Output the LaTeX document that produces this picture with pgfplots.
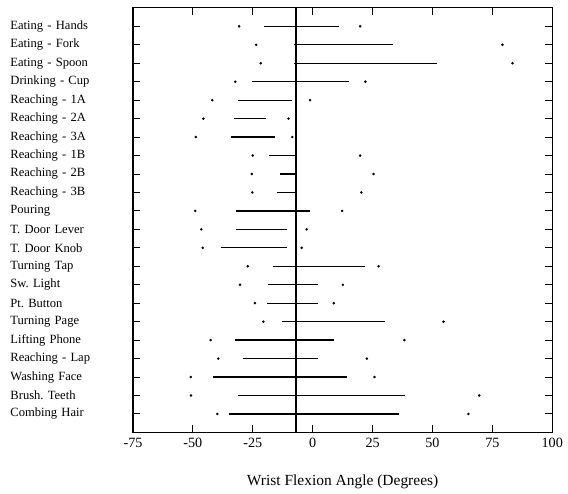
\documentclass[border=0pt]{standalone}
\usepackage{pgfplots}
\usepackage{pgfplotstable}
\pgfplotsset{compat=1.18}
\usepackage{fontspec}
\setmainfont{Liberation Serif}
\pgfplotstableread{
y dlo dhi
1 -30.7 19.8
2 -23.6 79.2
3 -21.7 83.4
4 -32.3 22.0
5 -41.9 -1.1
6 -45.6 -10.1
7 -48.8 -8.5
8 -25.0 19.8
9 -25.4 25.4
10 -25.2 20.3
11 -49.0 12.3
12 -46.5 -2.5
13 -45.9 -4.6
14 -27.1 27.5
15 -30.3 12.6
16 -24.1 8.8
17 -20.6 54.6
18 -42.6 38.3
19 -39.4 22.6
20 -50.9 25.8
21 -50.8 69.5
22 -39.8 65.0
}\dots
\begin{document}
\frenchspacing
\begin{tikzpicture}
\begin{axis}[
  scale only axis,
  width=320pt, height=324pt,
  xmin=-75, xmax=100,
  ymin=0, ymax=23,
  y dir=reverse,
  axis line style={line width=0.8pt},
  xtick={-75,-50,-25,0,25,50,75,100},
  xticklabels={-75,-50,-25,0,25,50,75,100},
  ytick={1,...,22},
  yticklabels={Eating - Hands, Eating - Fork, Eating - Spoon, Drinking - Cup, Reaching - 1A, Reaching - 2A, Reaching - 3A, Reaching - 1B, Reaching - 2B, Reaching - 3B, Pouring, T. Door Lever, T. Door Knob, Turning Tap, Sw. Light, Pt. Button, Turning Page, Lifting Phone, Reaching - Lap, Washing Face, Brush. Teeth, Combing Hair},
  yticklabel style={text width=90pt, align=left, font=\fontsize{9.6pt}{11pt}\selectfont\frenchspacing},
  xticklabel style={font=\fontsize{10.8pt}{12pt}\selectfont, yshift=-1pt},
  tick align=inside,
  major tick length=5.5pt,
  tick style={black, line width=0.7pt},
  xlabel={Wrist Flexion Angle (Degrees)},
  xlabel style={yshift=-14pt, font=\fontsize{11.8pt}{13pt}\selectfont},
  clip=false,
]
\addplot[black, line width=1pt] coordinates {(-7,0) (-7,23)};
\addplot[black, line width=1pt, unbounded coords=jump] coordinates {
(-20.3,1) (11.0,1) (nan,nan)
(-7.6,2) (33.7,2) (nan,nan)
(-7.6,3) (51.8,3) (nan,nan)
(-25.2,4) (15.2,4) (nan,nan)
(-31.0,5) (-8.7,5) (nan,nan)
(-32.8,6) (-19.6,6) (nan,nan)
(-34.1,7) (-15.7,7) (nan,nan)
(-18.1,8) (-7,8) (nan,nan)
(-13.6,9) (-7,9) (nan,nan)
(-14.7,10) (-7,10) (nan,nan)
(-32.0,11) (-1.1,11) (nan,nan)
(-32.0,12) (-10.8,12) (nan,nan)
(-38.4,13) (-10.8,13) (nan,nan)
(-16.7,14) (22.0,14) (nan,nan)
(-18.8,15) (2.4,15) (nan,nan)
(-19.2,16) (2.4,16) (nan,nan)
(-12.9,17) (30.2,17) (nan,nan)
(-32.4,18) (8.9,18) (nan,nan)
(-29.2,19) (2.4,19) (nan,nan)
(-41.5,20) (14.5,20) (nan,nan)
(-31.0,21) (38.6,21) (nan,nan)
(-34.9,22) (36.2,22)
};
\addplot[only marks, mark=*, mark size=0.75pt, black] table[x=dlo, y=y] {\dots};
\addplot[only marks, mark=*, mark size=0.75pt, black] table[x=dhi, y=y] {\dots};
\end{axis}
\path ([xshift=-101.5pt, yshift=6pt]current axis.north west);
\path ([xshift=12pt, yshift=-46pt]current axis.south east);
\end{tikzpicture}
\end{document}
